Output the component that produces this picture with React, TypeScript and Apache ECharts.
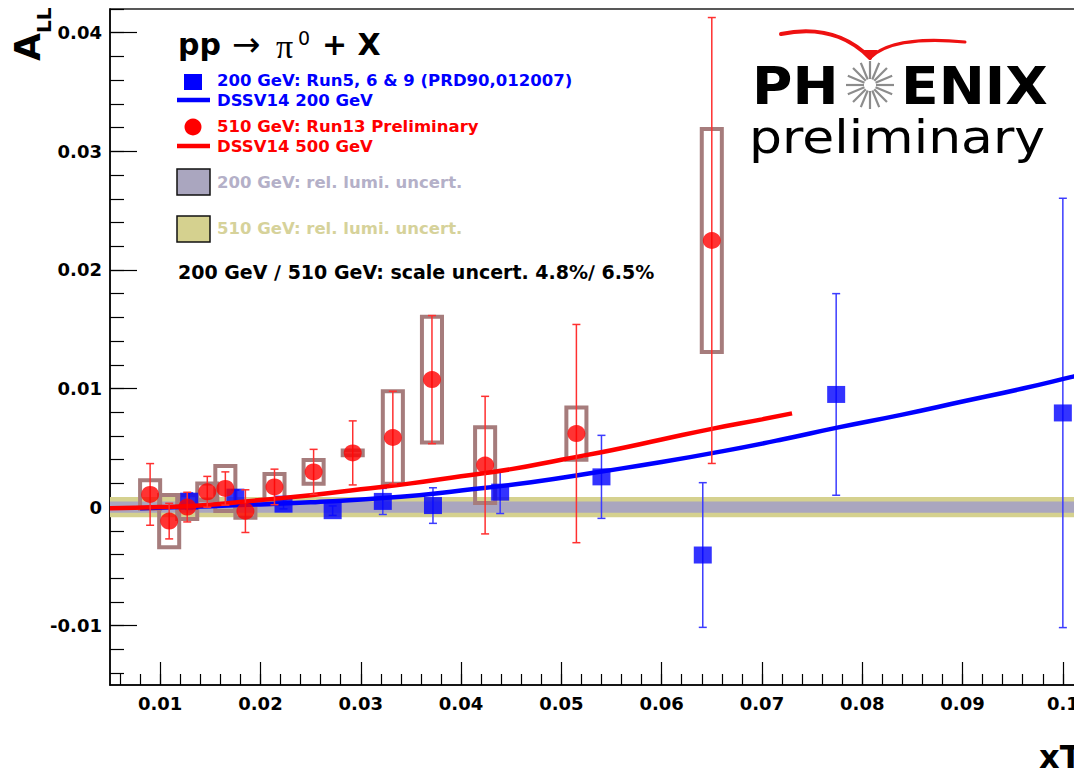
import React, { useEffect, useRef } from "react";
import * as echarts from "echarts";

// ---- axes -------------------------------------------------------------
const X_MIN = 0.005;
const X_MAX = 0.105;
const Y_MIN = -0.015;
const Y_MAX = 0.042;
const xTickLabels = [0.01, 0.02, 0.03, 0.04, 0.05, 0.06, 0.07, 0.08, 0.09, 0.1];
const yTickLabels = [-0.01, 0, 0.01, 0.02, 0.03, 0.04];

// ---- 510 GeV, Run13 preliminary ----------------------------------------
const redX = [0.009, 0.0109, 0.0127, 0.0147, 0.0165, 0.0185, 0.0214, 0.0253, 0.0292, 0.0332, 0.0371, 0.0424, 0.0515, 0.065];
const redY = [0.00107, -0.00118, 0.0, 0.00129, 0.00157, -0.00034, 0.0017, 0.00297, 0.00457, 0.00587, 0.01075, 0.00354, 0.0062, 0.02248];
const redErr = [0.0026, 0.0015, 0.00125, 0.0013, 0.0014, 0.0018, 0.0015, 0.0019, 0.0027, 0.0039, 0.0054, 0.0058, 0.0092, 0.0188];
const redSys = [0.0012, 0.0022, 0.001, 0.0007, 0.0019, 0.00055, 0.0011, 0.001, 0.0002, 0.0039, 0.0053, 0.0032, 0.0022, 0.0094];

// ---- 200 GeV, Run5, 6 & 9 -----------------------------------------------
const blueX = [0.0129, 0.0175, 0.0223, 0.0272, 0.0322, 0.0372, 0.0439, 0.054, 0.0641, 0.0774, 0.1];
const blueY = [0.0005, 0.00084, 0.00025, -0.0003, 0.00048, 0.00013, 0.00126, 0.00255, -0.00404, 0.0095, 0.00794];
const blueErr = [0.0007, 0.0006, 0.0004, 0.0004, 0.0011, 0.0015, 0.0018, 0.0035, 0.0061, 0.0085, 0.0181];

// ---- DSSV14 expectations --------------------------------------------------
const dssv200X = [0.008, 0.012, 0.018, 0.025, 0.034, 0.04, 0.047, 0.054, 0.06, 0.066, 0.072, 0.0775, 0.084, 0.09, 0.096, 0.101, 0.105];
const dssv200Y = [-0.0001, 0.0, 0.00017, 0.0004, 0.00087, 0.0014, 0.0021, 0.003, 0.0038, 0.0047, 0.0057, 0.0067, 0.0078, 0.0089, 0.01, 0.011, 0.0118];
const dssv500X = [0.005, 0.01, 0.015, 0.02, 0.025, 0.03, 0.035, 0.04, 0.045, 0.05, 0.055, 0.06, 0.065, 0.07, 0.073];
const dssv500Y = [-0.0001, 0.0, 0.0002, 0.0006, 0.001, 0.0015, 0.002, 0.0026, 0.0032, 0.004, 0.0048, 0.0057, 0.0066, 0.0074, 0.0079];

// ---- relative luminosity uncertainty bands (half widths) -----------------
const lumi200 = 0.00048;
const lumi510 = 0.00085;

const FONT = "DejaVu Sans";
const RED = "#ff0000";
const BLUE = "#0000ff";
const BOX = "#a67c7c";
const GRAY_BAND = "#aaa6bf";
const OLIVE_BAND = "#d5d18f";
const BOX_HALF_WIDTH = 0.001;

// the frame continues past the right edge of the visible page
const VIEW_W = 1074;
const VIEW_H = 771;
const CHART_W = 1113;

function stepValues(min: number, max: number, step: number): number[] {
  const out: number[] = [];
  const start = Math.ceil(min / step - 1e-9);
  for (let k = start; k * step <= max + 1e-12; k++) out.push(+(k * step).toFixed(4));
  return out;
}

const fmt = (v: number) => (Math.abs(v) < 1e-12 ? "0" : String(parseFloat(v.toFixed(3))));

function errorBars(color: string) {
  return (params: any, api: any) => {
    const x = api.value(0);
    const y = api.value(1);
    const e = api.value(2);
    const top = api.coord([x, y + e]);
    const bot = api.coord([x, y - e]);
    const cap = 4;
    const style = { stroke: color, lineWidth: 1.5 };
    return {
      type: "group",
      children: [
        { type: "line", shape: { x1: top[0], y1: top[1], x2: bot[0], y2: bot[1] }, style },
        { type: "line", shape: { x1: top[0] - cap, y1: top[1], x2: top[0] + cap, y2: top[1] }, style },
        { type: "line", shape: { x1: bot[0] - cap, y1: bot[1], x2: bot[0] + cap, y2: bot[1] }, style },
      ],
    };
  };
}

function buildOption() {
  const redPts = redX.map((x, i) => [x, redY[i]]);
  const bluePts = blueX.map((x, i) => [x, blueY[i]]);
  const redErrData = redX.map((x, i) => [x, redY[i], redErr[i]]);
  const blueErrData = blueX.map((x, i) => [x, blueY[i], blueErr[i]]);
  const boxData = redX.map((x, i) => [x, redY[i], redSys[i]]);
  const curve200 = dssv200X.map((x, i) => [x, dssv200Y[i]]);
  const curve500 = dssv500X.map((x, i) => [x, dssv500Y[i]]);

  const xMinor = stepValues(X_MIN, X_MAX, 0.002);
  const yMinor = stepValues(Y_MIN, Y_MAX, 0.002);

  const labelStyle = {
    color: "#000",
    fontFamily: FONT,
    fontWeight: "bold" as const,
    fontSize: 18,
    formatter: fmt,
  };

  // starburst replacing the "O" of the logo
  const rays: any[] = [];
  for (let i = 0; i < 16; i++) {
    const a = (i * Math.PI) / 8;
    rays.push({
      type: "line",
      shape: {
        x1: 870 + 6 * Math.cos(a),
        y1: 85 + 6 * Math.sin(a),
        x2: 870 + 24 * Math.cos(a),
        y2: 85 + 24 * Math.sin(a),
      },
      style: { stroke: "#8c8c8c", lineWidth: 2.2 },
      z: 20,
    });
  }

  const legendText = (x: number, y: number, text: string, color: string, size = 16.5) => ({
    type: "text",
    x,
    y,
    style: {
      text,
      fill: color,
      font: `bold ${size}px "${FONT}"`,
      align: "left",
      verticalAlign: "middle",
    },
    z: 20,
  });

  const graphic: any[] = [
    // title: pp -> pi0 + X
    { type: "text", x: 178, y: 44, style: { text: "pp", fill: "#000", font: `bold 30px "${FONT}"`, verticalAlign: "middle" }, z: 20 },
    { type: "text", x: 232, y: 44, style: { text: "\u2192", fill: "#000", font: `34px "${FONT}"`, verticalAlign: "middle" }, z: 20 },
    { type: "text", x: 276, y: 46, style: { text: "\u03c0", fill: "#000", font: `34px "Liberation Serif"`, verticalAlign: "middle" }, z: 20 },
    { type: "text", x: 298, y: 38, style: { text: "0", fill: "#000", font: `19px "${FONT}"`, verticalAlign: "middle" }, z: 20 },
    { type: "text", x: 322, y: 44, style: { text: "+ X", fill: "#000", font: `bold 30px "${FONT}"`, verticalAlign: "middle" }, z: 20 },

    // legend markers
    { type: "rect", shape: { x: 184, y: 74, width: 18, height: 16 }, style: { fill: BLUE }, z: 20 },
    { type: "line", shape: { x1: 177, y1: 100, x2: 210, y2: 100 }, style: { stroke: BLUE, lineWidth: 4.5 }, z: 20 },
    { type: "circle", shape: { cx: 193, cy: 127, r: 8.5 }, style: { fill: RED }, z: 20 },
    { type: "line", shape: { x1: 177, y1: 146, x2: 210, y2: 146 }, style: { stroke: RED, lineWidth: 4.5 }, z: 20 },
    { type: "rect", shape: { x: 177, y: 169, width: 33, height: 26 }, style: { fill: GRAY_BAND, stroke: "#111", lineWidth: 1.5 }, z: 20 },
    { type: "rect", shape: { x: 177, y: 216, width: 33, height: 26 }, style: { fill: OLIVE_BAND, stroke: "#111", lineWidth: 1.5 }, z: 20 },

    legendText(217, 80, "200 GeV: Run5, 6 & 9 (PRD90,012007)", BLUE),
    legendText(217, 100, "DSSV14 200 GeV", BLUE),
    legendText(217, 126, "510 GeV: Run13 Preliminary", RED),
    legendText(217, 146, "DSSV14 500 GeV", RED),
    legendText(217, 182, "200 GeV: rel. lumi. uncert.", "#b4b0c8"),
    legendText(217, 228, "510 GeV: rel. lumi. uncert.", "#d6d29a"),
    legendText(178, 272, "200 GeV \u2215 510 GeV: scale uncert. 4.8%\u2215 6.5%", "#000", 19),

    // PHENIX preliminary logo
    {
      type: "bezierCurve",
      shape: { x1: 781, y1: 34, cpx1: 830, cpy1: 24, cpx2: 856, cpy2: 44, x2: 870, y2: 58 },
      style: { stroke: "#ee1111", lineWidth: 4, fill: "none", lineCap: "round" },
      z: 20,
    },
    {
      type: "bezierCurve",
      shape: { x1: 870, y1: 58, cpx1: 884, cpy1: 44, cpx2: 915, cpy2: 37, x2: 965, y2: 42 },
      style: { stroke: "#ee1111", lineWidth: 3, fill: "none", lineCap: "round" },
      z: 20,
    },
    { type: "polygon", shape: { points: [[862, 50], [878, 50], [870, 60]] }, style: { fill: "#ee1111" }, z: 20 },
    { type: "text", x: 752, y: 86, scaleX: 1.06, style: { text: "PH", fill: "#000", font: `bold 52px "${FONT}"`, verticalAlign: "middle" }, z: 20 },
    { type: "text", x: 901, y: 86, scaleX: 1.06, style: { text: "ENIX", fill: "#000", font: `bold 52px "${FONT}"`, verticalAlign: "middle" }, z: 20 },
    ...rays,
    { type: "text", x: 749, y: 137, scaleX: 1.13, style: { text: "preliminary", fill: "#000", font: `46px "${FONT}"`, verticalAlign: "middle" }, z: 20 },

    // axis titles
    {
      type: "text",
      x: 27,
      y: 61,
      rotation: Math.PI / 2,
      style: { text: "A", fill: "#000", font: `bold 36px "${FONT}"`, align: "left", verticalAlign: "middle" },
      z: 20,
    },
    {
      type: "text",
      x: 44,
      y: 33,
      rotation: Math.PI / 2,
      style: { text: "LL", fill: "#000", font: `bold 20px "${FONT}"`, align: "left", verticalAlign: "middle" },
      z: 20,
    },
    { type: "text", x: 1039, y: 757, style: { text: "xT", fill: "#000", font: `bold 32px "${FONT}"`, verticalAlign: "middle" }, z: 20 },
  ];

  return {
    animation: false,
    backgroundColor: "#ffffff",
    grid: {
      left: 110,
      right: 0,
      top: 9,
      bottom: 86,
      show: true,
      borderColor: "#222",
      borderWidth: 1.5,
      containLabel: false,
    },
    xAxis: [
      {
        type: "value",
        min: X_MIN,
        max: X_MAX,
        position: "bottom",
        axisLine: { onZero: false, lineStyle: { color: "#000", width: 1.5 } },
        axisTick: { inside: true, length: 23, customValues: xTickLabels, lineStyle: { color: "#000", width: 1.2 } },
        axisLabel: { ...labelStyle, margin: 9, customValues: xTickLabels },
        splitLine: { show: false },
      },
      {
        type: "value",
        min: X_MIN,
        max: X_MAX,
        position: "bottom",
        axisLine: { show: false, onZero: false },
        axisTick: { inside: true, length: 11, customValues: xMinor, lineStyle: { color: "#000", width: 1.2 } },
        axisLabel: { show: false },
        splitLine: { show: false },
      },
    ],
    yAxis: [
      {
        type: "value",
        min: Y_MIN,
        max: Y_MAX,
        position: "left",
        axisLine: { onZero: false, lineStyle: { color: "#000", width: 1.5 } },
        axisTick: { inside: true, length: 27, customValues: yTickLabels, lineStyle: { color: "#000", width: 1.2 } },
        axisLabel: { ...labelStyle, margin: 8, customValues: yTickLabels },
        splitLine: { show: false },
      },
      {
        type: "value",
        min: Y_MIN,
        max: Y_MAX,
        position: "left",
        axisLine: { show: false, onZero: false },
        axisTick: { inside: true, length: 14, customValues: yMinor, lineStyle: { color: "#000", width: 1.2 } },
        axisLabel: { show: false },
        splitLine: { show: false },
      },
    ],
    graphic,
    series: [
      {
        name: "rel. lumi. uncert.",
        type: "custom",
        z: 1,
        clip: true,
        data: [[X_MIN, 0]],
        encode: { x: 0, y: 1 },
        renderItem: (params: any, api: any) => {
          const cs = params.coordSys;
          const o1 = api.coord([X_MIN, lumi510])[1];
          const o2 = api.coord([X_MIN, -lumi510])[1];
          const g1 = api.coord([X_MIN, lumi200])[1];
          const g2 = api.coord([X_MIN, -lumi200])[1];
          return {
            type: "group",
            children: [
              { type: "rect", shape: { x: cs.x, y: o1, width: cs.width, height: o2 - o1 }, style: { fill: OLIVE_BAND } },
              { type: "rect", shape: { x: cs.x, y: g1, width: cs.width, height: g2 - g1 }, style: { fill: GRAY_BAND } },
            ],
          };
        },
      },
      {
        name: "510 GeV syst.",
        type: "custom",
        z: 2,
        clip: true,
        data: boxData,
        encode: { x: 0, y: 1 },
        renderItem: (params: any, api: any) => {
          const x = api.value(0);
          const y = api.value(1);
          const s = api.value(2);
          const p1 = api.coord([x - BOX_HALF_WIDTH, y + s]);
          const p2 = api.coord([x + BOX_HALF_WIDTH, y - s]);
          return {
            type: "rect",
            shape: { x: p1[0], y: p1[1], width: p2[0] - p1[0], height: p2[1] - p1[1] },
            style: { fill: "none", stroke: BOX, lineWidth: 4 },
          };
        },
      },
      {
        name: "200 GeV stat.",
        type: "custom",
        z: 3,
        clip: true,
        data: blueErrData,
        encode: { x: 0, y: 1 },
        renderItem: errorBars("#3c3cff"),
      },
      {
        name: "200 GeV: Run5, 6 & 9",
        type: "scatter",
        z: 4,
        data: bluePts,
        symbol: "rect",
        symbolSize: [18, 17],
        itemStyle: { color: BLUE },
      },
      {
        name: "DSSV14 200 GeV",
        type: "line",
        z: 5,
        data: curve200,
        smooth: true,
        showSymbol: false,
        symbol: "none",
        clip: true,
        lineStyle: { color: BLUE, width: 4.5 },
      },
      {
        name: "DSSV14 500 GeV",
        type: "line",
        z: 6,
        data: curve500,
        smooth: true,
        showSymbol: false,
        symbol: "none",
        clip: true,
        lineStyle: { color: RED, width: 4.5 },
      },
      {
        name: "510 GeV stat.",
        type: "custom",
        z: 7,
        clip: true,
        data: redErrData,
        encode: { x: 0, y: 1 },
        renderItem: errorBars("#ff3030"),
      },
      {
        name: "510 GeV: Run13 Preliminary",
        type: "scatter",
        z: 8,
        data: redPts,
        symbol: "circle",
        symbolSize: [18, 17],
        itemStyle: { color: RED },
      },
    ],
  };
}

export default function App() {
  const ref = useRef<HTMLDivElement>(null);

  useEffect(() => {
    if (!ref.current) return;
    const chart = echarts.init(ref.current, undefined, { renderer: "svg" });
    chart.setOption(buildOption() as any);
    return () => chart.dispose();
  }, []);

  return (
    <div
      style={{
        position: "absolute",
        left: 0,
        top: 0,
        width: VIEW_W,
        height: VIEW_H,
        overflow: "hidden",
        background: "#fff",
      }}
    >
      <div ref={ref} style={{ width: CHART_W, height: VIEW_H }} />
    </div>
  );
}
